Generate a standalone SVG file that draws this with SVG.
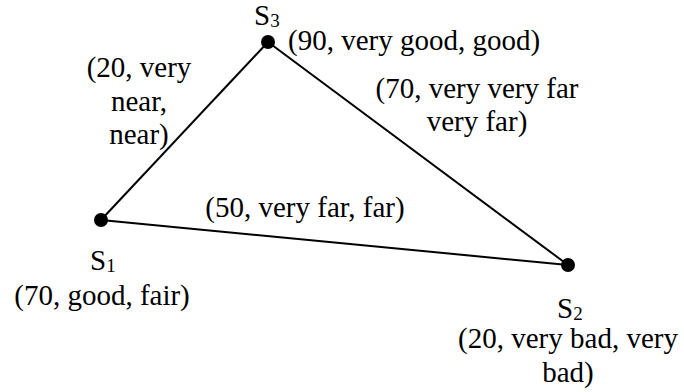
<svg xmlns="http://www.w3.org/2000/svg" width="684" height="392" viewBox="0 0 684 392">
<style>
text{font-family:"Liberation Serif","Times New Roman",serif;font-size:29px;fill:#000}
.sub{font-size:19px}
.c{text-anchor:middle}
.edge{stroke:#000;stroke-width:2;fill:none}
.dot{fill:#000}
</style>
<rect width="684" height="392" fill="#fff"/>
<g id="connectors">
<line class="edge" x1="101" y1="220" x2="268" y2="42"/>
<line class="edge" x1="268" y1="42" x2="568" y2="265"/>
<line class="edge" x1="101" y1="220" x2="568" y2="265"/>
<text class="c" x="139" y="77">(20, very</text>
<text class="c" x="139" y="111">near,</text>
<text class="c" x="139" y="144">near)</text>
<text class="c" x="477" y="98">(70, very very far</text>
<text class="c" x="477" y="131">very far)</text>
<text class="c" x="305" y="217">(50, very far, far)</text>
</g>
<g id="S3">
<circle class="dot" cx="268" cy="42" r="7"/>
<text x="254" y="25">S<tspan class="sub" dy="2">3</tspan></text>
<text x="288" y="50">(90, very good, good)</text>
</g>
<g id="S1">
<circle class="dot" cx="101" cy="220" r="7"/>
<text x="90" y="270">S<tspan class="sub" dy="2">1</tspan></text>
<text class="c" x="102" y="305">(70, good, fair)</text>
</g>
<g id="S2">
<circle class="dot" cx="568" cy="265" r="7"/>
<text x="557" y="318">S<tspan class="sub" dy="2">2</tspan></text>
<text class="c" x="568" y="348">(20, very bad, very</text>
<text class="c" x="568" y="382">bad)</text>
</g>
</svg>
